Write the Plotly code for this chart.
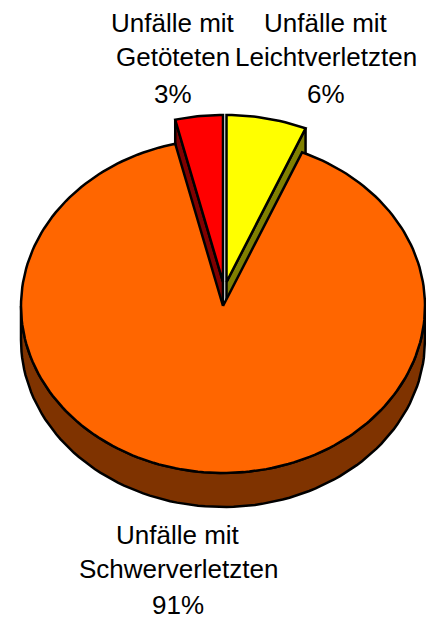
import numpy as np
import plotly.graph_objects as go

categories = ["Unfälle mit Leichtverletzten", "Unfälle mit Schwerverletzten", "Unfälle mit Getöteten"]
values = [6.4, 89.8, 3.8]
percent_labels = ["6%", "91%", "3%"]
name_line1 = ["Unfälle mit", "Unfälle mit", "Unfälle mit"]
name_line2 = ["Leichtverletzten", "Schwerverletzten", "Getöteten"]
top_colors = ["#FFFF00", "#FF6600", "#FF0000"]
side_colors = ["#808000", "#7F3300", "#800000"]

RX, RY, DEPTH = 202, 167, 34
centers = [(226.5, 282), (223, 306), (223, 282)]
label_x = [326, 178, 173]
label_y = [(23, 57, 94), (535, 569, 605), (23, 57, 94)]

total = sum(values)
edges = np.cumsum([0] + values) / total * 2 * np.pi


def rim(theta, cx, cy, dy=0):
    return cx + RX * np.sin(theta), cy - RY * np.cos(theta) + dy


def add_poly(fig, xs, ys, color, name):
    fig.add_trace(go.Scatter(x=xs, y=ys, mode="lines", fill="toself", fillcolor=color,
                             line=dict(color="#000000", width=2.5), name=name, hoverinfo="name"))


fig = go.Figure()

# back slices: radial wall seen from the front, then the top face
for i in (0, 2):
    cx, cy = centers[i]
    edge = edges[i + 1] if i == 0 else edges[i]
    px, py = rim(np.array([edge]), cx, cy)
    add_poly(fig, [cx, px[0], px[0], cx, cx], [cy, py[0], py[0] + DEPTH, cy + DEPTH, cy],
             side_colors[i], categories[i])
    t = np.linspace(edges[i], edges[i + 1], 16)
    x, y = rim(t, cx, cy)
    add_poly(fig, np.r_[cx, x, cx], np.r_[cy, y, cy], top_colors[i], categories[i])

# large slice: front rim, then top face
cx, cy = centers[1]
t = np.linspace(np.pi / 2, 3 * np.pi / 2, 90)
x0, y0 = rim(t, cx, cy)
x1, y1 = rim(t, cx, cy, DEPTH)
add_poly(fig, np.r_[x1, x0[::-1], x1[0]], np.r_[y1, y0[::-1], y1[0]], side_colors[1], categories[1])
t = np.linspace(edges[1], edges[2], 200)
x, y = rim(t, cx, cy)
add_poly(fig, np.r_[cx, x, cx], np.r_[cy, y, cy], top_colors[1], categories[1])

for i in range(3):
    texts = (name_line1[i], name_line2[i], percent_labels[i])
    for text, ly in zip(texts, label_y[i]):
        fig.add_annotation(x=label_x[i], y=ly, text=text, showarrow=False, xanchor="center", yanchor="middle",
                           font=dict(family="Liberation Sans", size=26, color="#000000"))

fig.update_layout(
    width=426, height=620, margin=dict(l=0, r=0, t=0, b=0), showlegend=False,
    paper_bgcolor="#FFFFFF", plot_bgcolor="#FFFFFF",
    xaxis=dict(range=[0, 426], visible=False, fixedrange=True),
    yaxis=dict(range=[620, 0], visible=False, fixedrange=True),
)
fig.write_html("out.html", config={"displayModeBar": False},
               post_script="document.body.style.margin='0';document.body.style.overflow='hidden';")
